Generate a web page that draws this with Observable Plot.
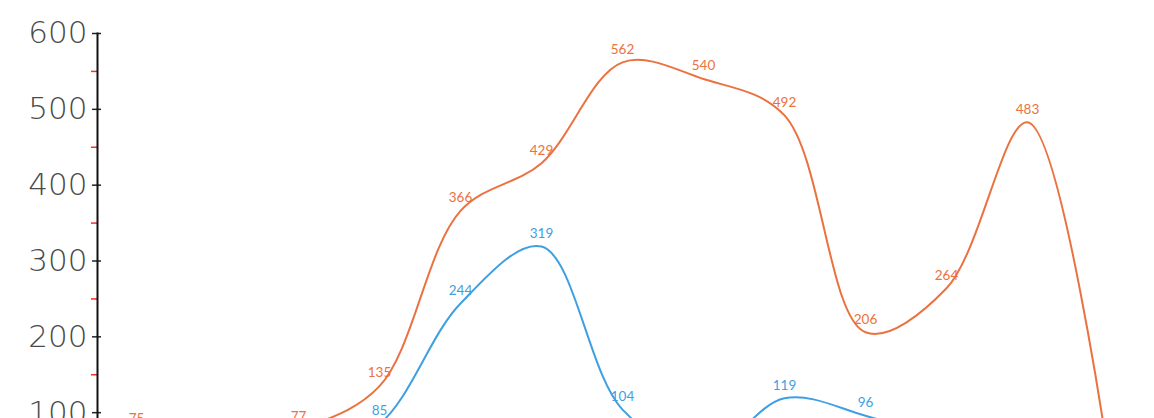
<!DOCTYPE html>
<html>
<head>
<meta charset="utf-8">
<script src="https://cdn.jsdelivr.net/npm/d3@7"></script>
<script src="https://cdn.jsdelivr.net/npm/@observablehq/plot@0.6"></script>
<style>
  html, body { margin: 0; padding: 0; background: #fff; overflow: hidden; }
</style>
</head>
<body>
<div id="chart"></div>
<script>
const categories = ["1","2","3","4","5","6","7","8","9","10","11","12","13"];
const orangeValues = [75, 50, 77, 135, 366, 429, 562, 540, 492, 206, 264, 483, 40];
const blueValues = [15, 25, 40, 85, 244, 319, 104, 45, 119, 96, 60, 30, 20];
const majorTicks = [0, 100, 200, 300, 400, 500, 600];
const minorTicks = [50, 150, 250, 350, 450, 550];

const orangeColor = "#EB7240";
const blueColor = "#3E9FE3";

const rows = [
  ...categories.map((c, i) => ({cat: c, value: orangeValues[i], series: "orange"})),
  ...categories.map((c, i) => ({cat: c, value: blueValues[i], series: "blue"}))
];
const orange = rows.filter(d => d.series === "orange");
const blue = rows.filter(d => d.series === "blue");

const chart = Plot.plot({
  width: 1154,
  height: 530,
  marginLeft: 97,
  marginRight: 8,
  marginTop: 33,
  marginBottom: 42,
  style: {fontFamily: "Lato, sans-serif", background: "#fff"},
  x: {type: "point", domain: categories, padding: 0.47, axis: null},
  y: {domain: [0, 600], axis: null, label: null},
  marks: [
    Plot.axisY({ticks: minorTicks, tickSize: 6, stroke: "#ff2a2a", strokeWidth: 1.5, text: null, label: null}),
    Plot.axisY({ticks: majorTicks, tickSize: 9, dx: 4, stroke: "#222", strokeWidth: 1.5, text: null, label: null}),
    Plot.axisY({ticks: majorTicks, tickSize: 0, tickPadding: 10, label: null, fontSize: 31, fontWeight: 200, fill: "#4a4a4a", fontFamily: "'DejaVu Sans', sans-serif"}),
    Plot.frame({anchor: "left", stroke: "#111", strokeWidth: 2}),
    Plot.line(orange, {x: "cat", y: "value", stroke: orangeColor, strokeWidth: 2, curve: "catmull-rom"}),
    Plot.line(blue, {x: "cat", y: "value", stroke: blueColor, strokeWidth: 2, curve: "catmull-rom"}),
    Plot.text(orange, {x: "cat", y: "value", text: d => String(d.value), fill: orangeColor, dy: -13, fontSize: 13.5, fontFamily: "Lato, sans-serif"}),
    Plot.text(blue, {x: "cat", y: "value", text: d => String(d.value), fill: blueColor, dy: -13, fontSize: 13.5, fontFamily: "Lato, sans-serif"})
  ]
});
document.getElementById("chart").appendChild(chart);
</script>
</body>
</html>
